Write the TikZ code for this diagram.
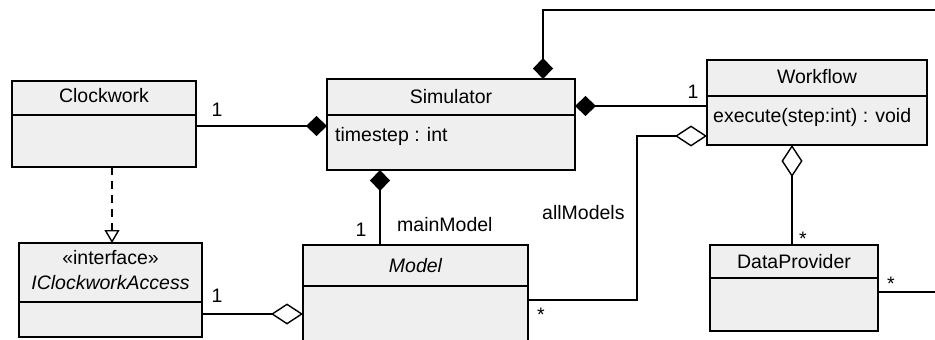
\documentclass[tikz,border=0pt]{standalone}
\usepackage{fontspec}
\setmainfont{Liberation Sans}
\usetikzlibrary{arrows.meta,calc}
\definecolor{boxfill}{HTML}{EFEFEF}
\tikzset{
  x=1pt, y=-1pt,
  cls/.style={draw=black, line width=2.4pt, fill=boxfill, inner sep=0pt, outer sep=0pt},
  divider/.style={draw=black, line width=1.4pt},
  conn/.style={draw=black, line width=1.4pt},
  txt/.style={font=\fontsize{19.5}{22}\selectfont, inner sep=0pt},
  comp/.style={-{Diamond[length=21pt,width=20pt]}},
  aggr/.style={-{Diamond[open,length=32pt,width=21pt]}},
  realize/.style={dash pattern=on 8pt off 6pt, -{Triangle[open,length=13pt,width=15pt]}},
}
\begin{document}
\begin{tikzpicture}
\useasboundingbox (0,0) rectangle (935,340);
\clip (0,0) rectangle (935,340);

% class boxes
\node[cls, minimum width=184pt, minimum height=86pt] (clock) at (104,124) {};
\node[cls, minimum width=248pt, minimum height=91pt] (simul) at (451,124.5) {};
\node[cls, minimum width=220pt, minimum height=85pt] (work) at (817,102.5) {};
\node[cls, minimum width=168pt, minimum height=86pt] (data) at (794,288) {};
\node[cls, line width=1.6pt, minimum width=225pt, minimum height=110pt] (model) at (415.5,300) {};
\node[cls, minimum width=183pt, minimum height=94pt] (iacc) at (110.5,290) {};

% dividers
\draw[divider] (12,115) -- (196,115);
\draw[divider] (327,115) -- (575,115);
\draw[divider] (707,96) -- (927,96);
\draw[divider] (710,278) -- (878,278);
\draw[divider] (303,286) -- (528,286);
\draw[divider] (19,302) -- (202,302);

% class texts
\node[txt] (tclock) at (104,96) {Clockwork};
\node[txt] (tsimul) at (451,97) {Simulator};
\node[txt, anchor=west] (asimul) at (335,136) {timestep : int};
\node[txt] (twork) at (817,77) {Workflow};
\node[txt, anchor=west] (owork) at (713,117) {execute(step:int) : void};
\node[txt] (tdata) at (794,262) {DataProvider};
\node[txt] (tmodel) at (415.5,266) {\itshape Model};
\node[txt] (siacc) at (110.5,258) {«interface»};
\node[txt] (tiacc) at (110.5,283) {\itshape IClockworkAccess};

% free ends
\coordinate (topR) at (935,10);
\coordinate (dataR) at (935,292);

% connectors
\draw[conn, comp] (clock.east |- 0,126) -- (simul.west |- 0,126);
\draw[conn, comp] (work.west |- 0,106) -- (simul.east |- 0,106);
\draw[conn, comp] (topR) -| ([xshift=92pt]simul.north);
\draw[conn, aggr] (model.east |- 0,300) -| (637,136) -- (work.west |- 0,136);
\draw[conn, aggr] (data.north -| 792,0) -- (work.south -| 792,0);
\draw[conn] (data.east |- 0,292) -- (dataR);
\draw[conn, comp] (model.north -| 380,0) -- (simul.south -| 380,0);
\draw[conn, realize] (clock.south -| 112,0) -- (iacc.north -| 112,0);
\draw[conn, aggr] (iacc.east |- 0,314) -- (model.west |- 0,314);

% multiplicities and role names
\node[txt] (m1) at (217,110) {1};
\node[txt] (m2) at (217,296) {1};
\node[txt] (m3) at (361,230) {1};
\node[txt] (m4) at (693,92) {1};
\node[txt] (m5) at (541,315) {*};
\node[txt] (m6) at (803,239) {*};
\node[txt] (m7) at (891,284) {*};
\node[txt, anchor=west] (rmain) at (397,225) {mainModel};
\node[txt, anchor=west] (rall) at (542,213) {allModels};
\end{tikzpicture}
\end{document}
